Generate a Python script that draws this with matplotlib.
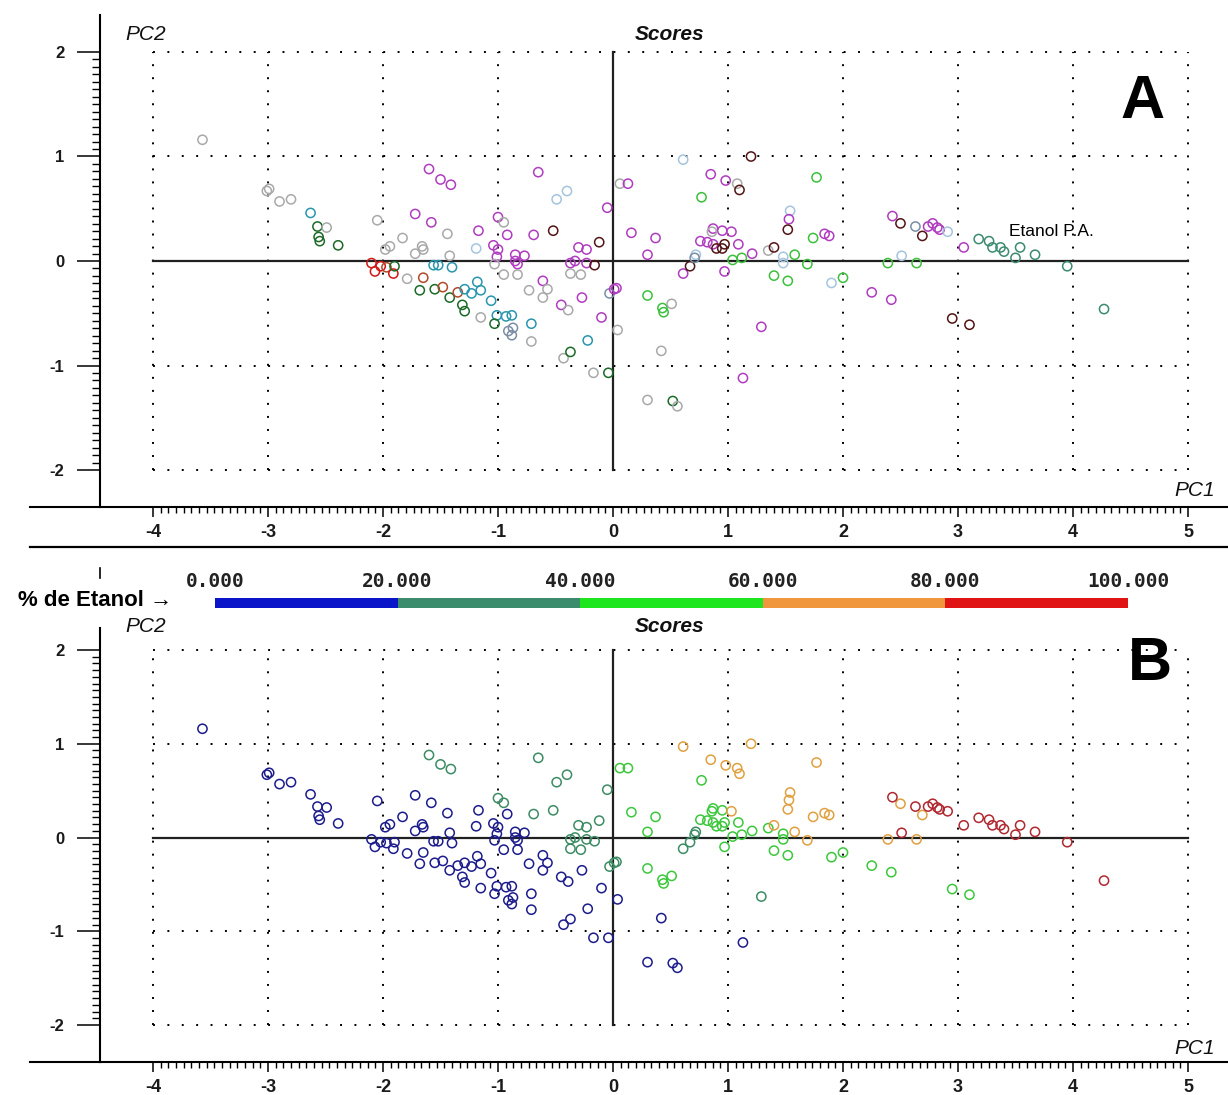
import numpy as np
import matplotlib
matplotlib.use('Agg')
import matplotlib.pyplot as plt
from matplotlib.colors import ListedColormap, BoundaryNorm
from matplotlib.cm import ScalarMappable
from matplotlib.lines import Line2D
from matplotlib.ticker import FixedLocator

W, H = 1228, 1095

# scores (PC1, PC2) of each sample
pc1 = [-3.57, -3.01, -2.99, -2.90, -2.80, -2.63, -2.57, -2.49, -2.56, -2.55,
       -2.39, -2.05, -2.10, -2.07, -2.02, -1.98, -1.94, -1.97, -1.91, -1.90,
       -1.83, -1.72, -1.58, -1.79, -1.72, -1.65, -1.66, -1.65, -1.68, -1.56,
       -1.52, -1.55, -1.48, -1.44, -1.42, -1.35, -1.31, -1.29, -1.60, -1.50,
       -1.41, -1.42, -1.40, -1.29, -1.23, -1.18, -1.15, -1.19, -1.17, -1.15,
       -1.06, -1.04, -1.00, -1.01, -1.03, -1.00, -0.95, -0.92, -0.85, -0.77,
       -0.83, -0.85, -0.95, -0.83, -1.01, -0.93, -0.88, -1.03, -0.91, -0.88,
       -0.87, -0.71, -0.71, -0.73, -0.61, -0.57, -0.61, -0.45, -0.39, -0.27,
       -0.10, -0.22, -0.43, -0.37, -0.17, -0.04, 0.04, 0.30, 0.52, 0.56,
       0.42, 1.13, -0.65, -0.40, -0.49, -0.69, -0.52, -0.05, -0.30, -0.23,
       -0.12, -0.37, -0.33, -0.23, -0.16, -0.37, -0.28, -0.03, 0.01, 0.03,
       0.61, 0.67, 0.72, 0.71, 1.29, 0.06, 0.13, 0.16, 0.37, 0.30,
       0.30, 0.43, 0.44, 0.51, 0.77, 0.87, 0.95, 0.86, 0.76, 0.82,
       0.87, 0.90, 0.95, 0.97, 1.09, 1.04, 1.12, 0.97, 1.21, 1.35,
       1.48, 1.48, 1.40, 1.52, 1.90, 2.00, 2.25, 2.42, 2.95, 3.10,
       0.61, 0.85, 0.98, 1.08, 1.10, 1.20, 1.03, 1.77, 1.54, 1.53,
       1.52, 1.74, 1.84, 1.88, 1.40, 1.58, 1.69, 2.39, 2.64, 2.50,
       2.69, 2.51, 2.43, 2.63, 2.74, 2.78, 2.82, 2.84, 2.91, 3.05,
       3.18, 3.27, 3.30, 3.37, 3.40, 3.50, 3.54, 3.67, 3.95, 4.27]
pc2 = [1.16, 0.67, 0.69, 0.57, 0.59, 0.46, 0.33, 0.32, 0.23, 0.19,
       0.15, 0.39, -0.02, -0.10, -0.05, 0.11, 0.14, -0.06, -0.12, -0.05,
       0.22, 0.45, 0.37, -0.17, 0.07, 0.11, 0.14, -0.16, -0.28, -0.04,
       -0.04, -0.27, -0.25, 0.26, -0.35, -0.30, -0.42, -0.48, 0.88, 0.78,
       0.73, 0.05, -0.06, -0.27, -0.31, -0.20, -0.28, 0.12, 0.29, -0.54,
       -0.38, 0.15, 0.11, 0.04, -0.03, 0.42, 0.37, 0.25, 0.06, 0.05,
       -0.03, 0.00, -0.13, -0.13, -0.52, -0.53, -0.52, -0.60, -0.67, -0.71,
       -0.64, -0.60, -0.77, -0.28, -0.19, -0.27, -0.35, -0.42, -0.47, -0.35,
       -0.54, -0.76, -0.93, -0.87, -1.07, -1.07, -0.66, -1.33, -1.34, -1.39,
       -0.86, -1.12, 0.85, 0.67, 0.59, 0.25, 0.29, 0.51, 0.13, 0.11,
       0.18, -0.02, 0.00, -0.02, -0.04, -0.12, -0.13, -0.31, -0.27, -0.26,
       -0.12, -0.05, 0.06, 0.03, -0.63, 0.74, 0.74, 0.27, 0.22, 0.06,
       -0.33, -0.45, -0.49, -0.41, 0.61, 0.31, 0.29, 0.28, 0.19, 0.18,
       0.16, 0.12, 0.12, 0.16, 0.16, 0.01, 0.03, -0.10, 0.07, 0.10,
       0.04, -0.02, -0.14, -0.19, -0.21, -0.16, -0.30, -0.37, -0.55, -0.61,
       0.97, 0.83, 0.77, 0.74, 0.68, 1.00, 0.28, 0.80, 0.48, 0.40,
       0.30, 0.22, 0.26, 0.24, 0.13, 0.06, -0.03, -0.02, -0.02, 0.36,
       0.24, 0.05, 0.43, 0.33, 0.33, 0.36, 0.32, 0.30, 0.28, 0.13,
       0.21, 0.19, 0.13, 0.13, 0.09, 0.03, 0.13, 0.06, -0.05, -0.46]

# sample group (panel A colours)
grupo = ['g', 'g', 'g', 'g', 'g', 'c', 'dg', 'g', 'dg', 'dg',
         'dg', 'g', 'r', 'r', 'r', 'g', 'g', 't', 'r', 'dg',
         'g', 'm', 'm', 'g', 'g', 'g', 'g', 't', 'dg', 'c',
         'c', 'dg', 't', 'g', 'dg', 't', 'dg', 'dg', 'm', 'm',
         'm', 'g', 'c', 'c', 'c', 'c', 'c', 'lb', 'm', 'g',
         'c', 'm', 'm', 'm', 'g', 'm', 'g', 'm', 'm', 'm',
         'm', 'm', 'g', 'g', 'c', 'c', 'c', 'dg', 'bg', 'bg',
         'bg', 'c', 'g', 'g', 'm', 'g', 'g', 'm', 'g', 'm',
         'm', 'c', 'g', 'dg', 'g', 'dg', 'g', 'g', 'dg', 'g',
         'g', 'm', 'm', 'lb', 'lb', 'm', 'k', 'm', 'm', 'm',
         'k', 'm', 'm', 'm', 'k', 'g', 'g', 'bg', 'm', 'm',
         'm', 'k', 'lb', 'bg', 'm', 'g', 'm', 'm', 'm', 'm',
         'v', 'v', 'v', 'g', 'v', 'm', 'm', 'g', 'm', 'm',
         'm', 'k', 'k', 'k', 'm', 'v', 'v', 'm', 'm', 'g',
         'lb', 'lb', 'v', 'v', 'lb', 'v', 'm', 'm', 'k', 'k',
         'lb', 'm', 'm', 'g', 'k', 'k', 'm', 'v', 'lb', 'm',
         'k', 'v', 'm', 'm', 'k', 'v', 'v', 'v', 'v', 'k',
         'k', 'lb', 'm', 'bg', 'm', 'm', 'm', 'm', 'lb', 'm',
         'pa', 'pa', 'pa', 'pa', 'pa', 'pa', 'pa', 'pa', 'pa', 'pa']

# % de etanol of each sample (panel B colours)
etanol = [10] * 38 + [30] * 3 + [10] * 14 + [30] * 2 + [10] * 35 \
    + [30] * 23 + [50] * 35 + [70] * 21 + [90] * 9 + [100] * 10

faixas = [0, 20, 40, 60, 80, 100]
rotulos_faixa = ['0.000', '20.000', '40.000', '60.000', '80.000', '100.000']
x_ticks = [-4, -3, -2, -1, 0, 1, 2, 3, 4, 5]
y_ticks = [-2, -1, 0, 1, 2]

cores_grupo = {'g': '#a9a9a9', 'm': '#b03cc0', 'dg': '#1c6a28', 'c': '#2896ae',
               'v': '#3cc03c', 'r': '#d01818', 't': '#b04a2a', 'k': '#521414',
               'lb': '#a6c4de', 'bg': '#7a8ea6', 'pa': '#3c8a70'}
cores_barra = ['#0a14c8', '#3a8c6c', '#1ee61e', '#f0963c', '#e01414']
cores_pontos = ['#1c1c8c', '#3c8c64', '#3cc83c', '#e0a040', '#b02830']

plt.rcParams['font.family'] = ['Liberation Sans', 'DejaVu Sans']
plt.rcParams['axes.unicode_minus'] = False


def fx(x):
    return x / W


def fy(y):
    return 1 - y / H


def fig_line(fig, x0, y0, x1, y1, lw=1.5):
    fig.add_artist(Line2D([fx(x0), fx(x1)], [fy(y0), fy(y1)], color='black',
                          lw=lw, transform=fig.transFigure))


def draw_panel(ax, cores, ylim, dot_gap_y):
    ax.set_xlim(-4.461, 5.348)
    ax.set_ylim(*ylim)
    for s in ['top', 'right']:
        ax.spines[s].set_visible(False)
    for s in ['left', 'bottom']:
        ax.spines[s].set_linewidth(1.5)

    # dotted grid at the integer values
    for yv in y_ticks:
        if yv != 0:
            ax.plot([-4, 5], [yv, yv], color='black', lw=1.4, ls=(0, (1, 6.4)), zorder=1)
    for xv in x_ticks:
        if xv != 0:
            ax.plot([xv, xv], [-2, 2], color='black', lw=1.4, ls=(0, (1, dot_gap_y)), zorder=1)
    ax.plot([-4, 5], [0, 0], color='#202020', lw=1.6, zorder=2)
    ax.plot([0, 0], [-2, 2], color='#202020', lw=1.6, zorder=2)

    ax.scatter(pc1, pc2, s=44, facecolors='none', edgecolors=cores, linewidths=1.1, zorder=3)

    ax.set_xticks(x_ticks)
    ax.set_yticks(y_ticks)
    ax.xaxis.set_minor_locator(FixedLocator(np.linspace(-4, 5, 136)))
    ax.yaxis.set_minor_locator(FixedLocator(np.linspace(-2, 2, 57)))
    ax.tick_params(axis='x', which='major', length=7.5, width=1.1, pad=5,
                   labelsize=13, labelcolor='#1a1a1a')
    ax.tick_params(axis='x', which='minor', length=4.5, width=1.0)
    ax.tick_params(axis='y', which='major', length=16.5, width=1.1, pad=9,
                   labelsize=12, labelcolor='#1a1a1a')
    ax.tick_params(axis='y', which='minor', length=6, width=1.0)
    for lab in ax.get_xticklabels() + ax.get_yticklabels():
        lab.set_fontweight('bold')


fig = plt.figure(figsize=(W / 100, H / 100), dpi=100)

# panel A: coloured by sample
axA = fig.add_axes([fx(100), fy(507), 1128 / W, 492 / H])
draw_panel(axA, [cores_grupo[g] for g in grupo], (-2.354, 2.354), 5.7)

# panel B: coloured by % ethanol
norm = BoundaryNorm(faixas, len(cores_pontos), clip=True)
cmap_pts = ListedColormap(cores_pontos)
axB = fig.add_axes([fx(100), fy(1062), 1128 / W, 434 / H])
draw_panel(axB, cmap_pts(norm(etanol)), (-2.395, 2.235), 5.7)

# extra axis lines
fig_line(fig, 30, 507, 100, 507)
fig_line(fig, 30, 547, 1228, 547, lw=1.6)
fig_line(fig, 30, 1062, 100, 1062)
fig_line(fig, 100, 568, 100, 578, lw=1.2)

# texts
for top in [35, 627]:
    fig.text(fx(146), fy(top), 'PC2', ha='center', va='center', fontsize=15,
             style='italic', color='#111111')
    fig.text(fx(670), fy(top), 'Scores', ha='center', va='center', fontsize=15,
             style='italic', fontweight='bold', color='#111111')
for yy in [490, 1048]:
    fig.text(fx(1195), fy(yy), 'PC1', ha='center', va='center', fontsize=15,
             style='italic', color='#111111')
fig.text(fx(1143), fy(102), 'A', ha='center', va='center', fontsize=44, fontweight='bold')
fig.text(fx(1150), fy(664), 'B', ha='center', va='center', fontsize=44, fontweight='bold')
axA.text(3.81, 0.28, 'Etanol P.A.', ha='center', va='center', fontsize=12.5)

fig.text(fx(95), fy(601), '% de Etanol →', ha='center', va='center', fontsize=16,
         fontweight='bold')

# colour scale
cax = fig.add_axes([fx(215), fy(608), (1128 - 215) / W, 10 / H])
cb = fig.colorbar(ScalarMappable(norm=BoundaryNorm(faixas, 5), cmap=ListedColormap(cores_barra)),
                  cax=cax, orientation='horizontal', ticks=faixas)
cb.outline.set_visible(False)
cax.xaxis.set_ticks_position('top')
cax.tick_params(length=0, pad=5)
cax.set_xticklabels(rotulos_faixa, fontsize=14, fontweight='bold',
                    family=['DejaVu Sans Mono'], color='#222222')

fig.savefig('out.png', dpi=100)
